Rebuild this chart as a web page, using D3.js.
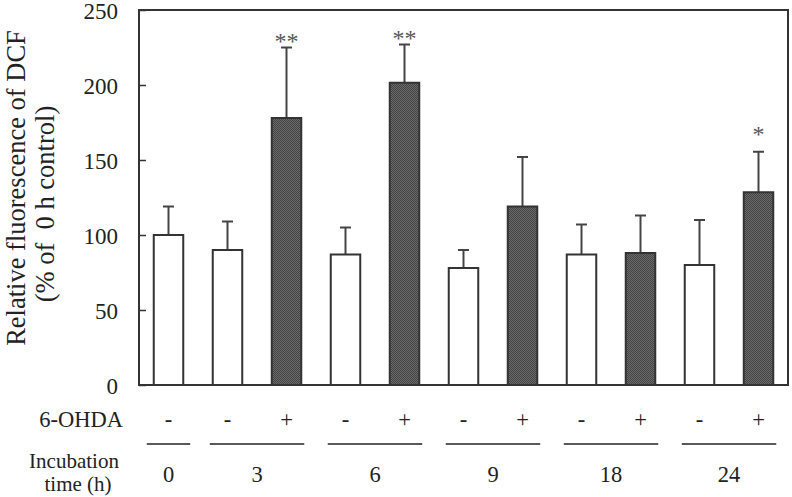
<!DOCTYPE html>
<html>
<head>
<meta charset="utf-8">
<script src="https://cdn.jsdelivr.net/npm/d3@7"></script>
<style>
  body { margin: 0; background: #fff; }
</style>
</head>
<body>
<div id="chart"></div>
<script>
// ─── DATA ───────────────────────────────────────────────────────────────────────
const hours    = ['0', '3', '3', '6', '6', '9', '9', '18', '18', '24', '24'];
const treated  = ['-', '-', '+', '-', '+', '-', '+', '-', '+', '-', '+'];
const means    = [100, 90, 178, 87, 201.5, 78, 119, 87, 88, 80, 128.5];
const errTops  = [119, 109, 225, 105, 227, 90, 152, 107, 113, 110, 155.5];
const stars    = ['', '', '**', '', '**', '', '', '', '', '', '*'];
const yTicks   = [0, 50, 100, 150, 200, 250];
const groups   = ['0', '3', '6', '9', '18', '24'];

// ─── LAYOUT ─────────────────────────────────────────────────────────────────────
const W = 792, H = 497;
const plot = {left: 139, right: 788, top: 10, bottom: 385};
const serif = '"Liberation Serif", "Times New Roman", Times, "DejaVu Serif", serif';

const svg = d3.select('#chart').append('svg')
    .attr('width', W)
    .attr('height', H)
    .attr('font-family', serif)
    .style('font-family', serif);

// dotted dark fill for the 6-OHDA bars
const pat = svg.append('defs').append('pattern')
    .attr('id', 'dots')
    .attr('width', 2).attr('height', 2)
    .attr('patternUnits', 'userSpaceOnUse');
pat.append('rect').attr('width', 2).attr('height', 2).attr('fill', '#6a6a6a');
pat.append('rect').attr('width', 1).attr('height', 1).attr('fill', '#444');
pat.append('rect').attr('x', 1).attr('y', 1).attr('width', 1).attr('height', 1).attr('fill', '#444');

// ─── SCALES ─────────────────────────────────────────────────────────────────────
const idx = d3.range(means.length);
const x = d3.scaleBand()
    .domain(idx)
    .range([plot.left, plot.right])
    .paddingInner(0.5)
    .paddingOuter(0.25);

const y = d3.scaleLinear()
    .domain([0, 250])
    .range([plot.bottom, plot.top]);

// ─── AXIS (inward ticks) ────────────────────────────────────────────────────────
const yAxis = svg.append('g')
    .attr('transform', `translate(${plot.left},0)`)
    .call(d3.axisRight(y).tickValues(yTicks).tickSize(7).tickFormat(''));
yAxis.select('.domain').remove();
yAxis.selectAll('line').attr('stroke', '#333').attr('stroke-width', 1.5);

svg.append('g').selectAll('text')
    .data(yTicks)
    .join('text')
    .attr('x', 118)
    .attr('y', d => y(d))
    .attr('dy', '0.38em')
    .attr('text-anchor', 'end')
    .attr('fill', '#222')
    .style('font-size', '23px')
    .text(d => d);

// ─── BARS ───────────────────────────────────────────────────────────────────────
const cx = i => x(i) + x.bandwidth() / 2;

// error bars (upper only)
const err = svg.append('g').attr('stroke', '#444').attr('stroke-width', 2);
err.selectAll('line.v')
    .data(idx)
    .join('line')
    .attr('class', 'v')
    .attr('x1', cx).attr('x2', cx)
    .attr('y1', i => y(means[i]))
    .attr('y2', i => y(errTops[i]));
err.selectAll('line.cap')
    .data(idx)
    .join('line')
    .attr('class', 'cap')
    .attr('x1', i => cx(i) - 5.5).attr('x2', i => cx(i) + 5.5)
    .attr('y1', i => y(errTops[i]))
    .attr('y2', i => y(errTops[i]));

svg.append('g').selectAll('rect')
    .data(idx)
    .join('rect')
    .attr('x', i => x(i))
    .attr('y', i => y(means[i]))
    .attr('width', x.bandwidth())
    .attr('height', i => y(0) - y(means[i]))
    .attr('fill', i => treated[i] === '+' ? 'url(#dots)' : '#fff')
    .attr('stroke', '#333')
    .attr('stroke-width', 2);

// significance marks
svg.append('g').selectAll('text')
    .data(idx.filter(i => stars[i]))
    .join('text')
    .attr('x', cx)
    .attr('y', i => y(errTops[i]) + (stars[i] === '*' ? -10 : 1))
    .attr('text-anchor', 'middle')
    .attr('fill', '#555')
    .style('font-size', '24px')
    .text(i => stars[i]);

// frame
svg.append('rect')
    .attr('x', plot.left).attr('y', plot.top)
    .attr('width', plot.right - plot.left)
    .attr('height', plot.bottom - plot.top)
    .attr('fill', 'none')
    .attr('stroke', '#333')
    .attr('stroke-width', 2);

// ─── LABELS BELOW ───────────────────────────────────────────────────────────────
svg.append('text')
    .attr('x', 123).attr('y', 427)
    .attr('text-anchor', 'end')
    .attr('fill', '#222')
    .style('font-size', '22.5px')
    .text('6-OHDA');

svg.append('g').selectAll('text')
    .data(idx)
    .join('text')
    .attr('x', cx)
    .attr('y', 427)
    .attr('text-anchor', 'middle')
    .attr('fill', '#222')
    .style('font-size', '22.5px')
    .text(i => treated[i]);

// group underline + hour label
groups.forEach(g => {
    const members = idx.filter(i => hours[i] === g);
    const first = members[0], last = members[members.length - 1];
    const pad = members.length === 1 ? 7 : 3;
    svg.append('line')
        .attr('x1', x(first) - pad)
        .attr('x2', x(last) + x.bandwidth() + pad)
        .attr('y1', 444).attr('y2', 444)
        .attr('stroke', '#222').attr('stroke-width', 1.5);
    svg.append('text')
        .attr('x', (cx(first) + cx(last)) / 2)
        .attr('y', 482)
        .attr('text-anchor', 'middle')
        .attr('fill', '#222')
        .style('font-size', '22.5px')
        .text(g);
});

svg.append('text')
    .attr('x', 74).attr('y', 468)
    .attr('text-anchor', 'middle')
    .attr('fill', '#222')
    .style('font-size', '21px')
    .text('Incubation');
svg.append('text')
    .attr('x', 78).attr('y', 491)
    .attr('text-anchor', 'middle')
    .attr('fill', '#222')
    .style('font-size', '21px')
    .text('time (h)');

// ─── Y LABEL ────────────────────────────────────────────────────────────────────
svg.append('text')
    .attr('transform', 'translate(25,188) rotate(-90)')
    .attr('text-anchor', 'middle')
    .attr('fill', '#222')
    .style('font-size', '26.5px')
    .text('Relative fluorescence of DCF');
svg.append('text')
    .attr('transform', 'translate(54,204) rotate(-90)')
    .attr('text-anchor', 'middle')
    .attr('fill', '#222')
    .style('font-size', '26.5px')
    .style('white-space', 'pre')
    .text('(% of  0 h control)');
</script>
</body>
</html>
